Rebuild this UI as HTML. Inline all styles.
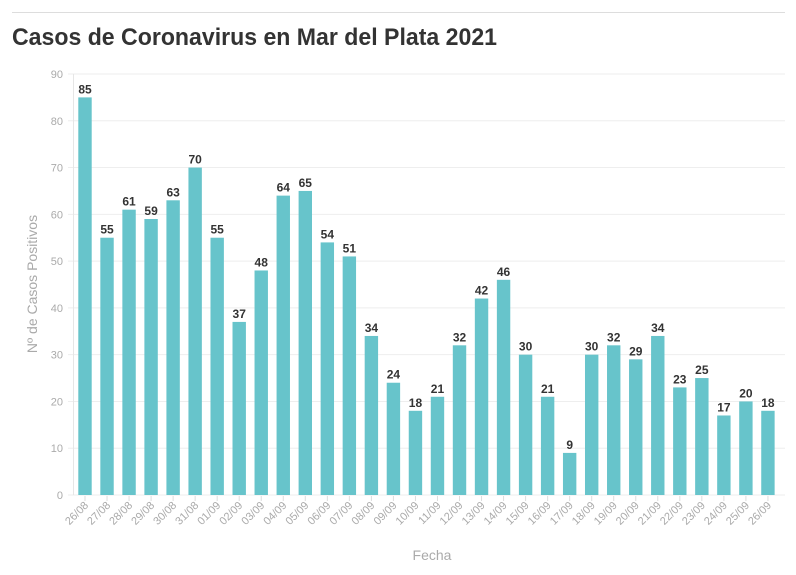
<!DOCTYPE html>
<html><head><meta charset="utf-8"><style>
body{margin:0;background:#fff;width:796px;height:575px;overflow:hidden}
svg{display:block;font-family:"Liberation Sans",sans-serif}
</style></head><body>
<svg width="796" height="575" viewBox="0 0 796 575">
<line x1="12" y1="12.5" x2="785" y2="12.5" stroke="#ddd" stroke-width="1"/>
<text x="12" y="45" font-size="24" font-weight="bold" fill="#333" textLength="485" lengthAdjust="spacingAndGlyphs">Casos de Coronavirus en Mar del Plata 2021</text>
<g id="grid"></g>
<text transform="translate(37,284) rotate(-90)" text-anchor="middle" font-size="14" fill="#aaa">Nº de Casos Positivos</text>
<text x="432" y="560" text-anchor="middle" font-size="14" fill="#aaa">Fecha</text>
</svg>
<script>
const data=[85,55,61,59,63,70,55,37,48,64,65,54,51,34,24,18,21,32,42,46,30,21,9,30,32,29,34,23,25,17,20,18];
const labels=["26/08","27/08","28/08","29/08","30/08","31/08","01/09","02/09","03/09","04/09","05/09","06/09","07/09","08/09","09/09","10/09","11/09","12/09","13/09","14/09","15/09","16/09","17/09","18/09","19/09","20/09","21/09","22/09","23/09","24/09","25/09","26/09"];
const g=document.getElementById('grid');const y0=495,k=421/90;let s='';
for(let v=0;v<=90;v+=10){const y=y0-v*k;s+=`<line x1="68" x2="785" y1="${y}" y2="${y}" stroke="#eee"/><text x="63" y="${y+4}" text-anchor="end" font-size="11" fill="#aaa">${v}</text>`;}
s+=`<line x1="73.5" x2="73.5" y1="74" y2="495" stroke="#e6e6e6"/>`;
data.forEach((d,i)=>{const x=78.3+i*22.03,cx=x+6.7,y=y0-d*k;
s+=`<rect x="${x}" y="${y}" width="13.4" height="${d*k}" fill="#67c4cb"/>`;
s+=`<text x="${cx}" y="${y-4}" text-anchor="middle" font-size="12" font-weight="bold" fill="#333">${d}</text>`;
s+=`<line x1="${cx}" x2="${cx}" y1="496" y2="501" stroke="#ddd"/>`;
s+=`<text transform="translate(${cx+4},${506}) rotate(-45)" text-anchor="end" font-size="11" fill="#aaa">${labels[i]}</text>`;});
g.innerHTML=s;
</script>
</body></html>
